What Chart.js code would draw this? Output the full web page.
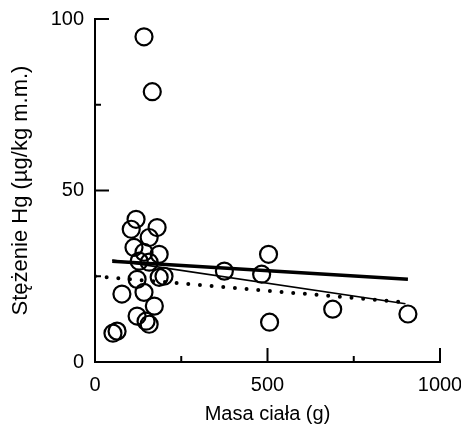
<!DOCTYPE html>
<html>
<head>
<meta charset="utf-8">
<script src="https://cdn.jsdelivr.net/npm/chart.js@4/dist/chart.umd.min.js"></script>
<style>
  html, body { margin: 0; padding: 0; background: #fff; }
  #wrap { width: 461px; height: 426px; }
</style>
</head>
<body>
<div id="wrap"><canvas id="c" width="461" height="426"></canvas></div>
<script>
// ---- data ----
const massG   = [142, 166, 119, 180, 105, 113, 142, 186, 128, 157, 157, 122, 186, 200, 78, 142, 172, 122, 148, 157, 52, 64, 375, 483, 503, 506, 689, 907];
const hgConc  = [94.8, 78.8, 41.6, 39.2, 38.7, 33.4, 32.0, 31.4, 29.4, 29.1, 36.3, 24.1, 24.7, 25.0, 19.8, 20.3, 16.3, 13.4, 11.9, 11.0, 8.4, 9.0, 26.5, 25.6, 31.4, 11.6, 15.4, 14.0];

const thickLineX  = [50, 907];
const thickLineY  = [29.4, 24.1];
const thinLineX   = [50, 900];
const thinLineY   = [29.7, 17.0];
const dottedLineX = [0, 900];
const dottedLineY = [25.0, 17.4];

const xTickLabels = [0, 500, 1000];
const yTickLabels = [0, 50, 100];
const xMajorTicks = [500, 1000];
const xMinorTicks = [250, 750];
const yMajorTicks = [50, 100];
const yMinorTicks = [25, 75];

const xTitle = 'Masa ciała (g)';
const yTitle = 'Stężenie Hg (µg/kg m.m.)';

const toPts = (xs, ys) => xs.map((x, i) => ({ x: x, y: ys[i] }));

const INK = '#000';
const FONT = '"Liberation Sans", Arial, sans-serif';

const insideTicks = {
  id: 'insideTicks',
  afterDraw(chart) {
    const ctx = chart.ctx;
    const xs = chart.scales.x, ys = chart.scales.y;
    const y0 = ys.getPixelForValue(0);
    const x0 = xs.getPixelForValue(0);
    ctx.save();
    ctx.strokeStyle = INK;
    ctx.lineWidth = 2;
    const drawX = (vals, len) => vals.forEach(v => {
      const px = xs.getPixelForValue(v);
      ctx.beginPath(); ctx.moveTo(px, y0); ctx.lineTo(px, y0 - len); ctx.stroke();
    });
    const drawY = (vals, len) => vals.forEach(v => {
      const py = ys.getPixelForValue(v);
      ctx.beginPath(); ctx.moveTo(x0, py); ctx.lineTo(x0 + len, py); ctx.stroke();
    });
    drawX(xMajorTicks, 14); drawX(xMinorTicks, 6);
    drawY(yMajorTicks, 14); drawY(yMinorTicks, 6);
    ctx.restore();
  }
};

new Chart(document.getElementById('c'), {
  type: 'scatter',
  data: {
    datasets: [
      {
        label: 'pts',
        data: toPts(massG, hgConc),
        pointStyle: 'circle',
        pointRadius: 8.5,
        pointBorderWidth: 2.2,
        pointBorderColor: INK,
        pointBackgroundColor: 'rgba(0,0,0,0)',
        clip: false,
        order: 4
      },
      {
        type: 'line', label: 'thin', data: toPts(thinLineX, thinLineY),
        borderColor: INK, borderWidth: 1.6, pointRadius: 0, fill: false, order: 3
      },
      {
        type: 'line', label: 'dotted', data: toPts(dottedLineX, dottedLineY),
        borderColor: INK, borderWidth: 4, borderDash: [0, 11.7], borderCapStyle: 'round',
        pointRadius: 0, fill: false, order: 2
      },
      {
        type: 'line', label: 'thick', data: toPts(thickLineX, thickLineY),
        borderColor: INK, borderWidth: 3.5, pointRadius: 0, fill: false, order: 1
      }
    ]
  },
  options: {
    responsive: false,
    animation: false,
    devicePixelRatio: 1,
    layout: { padding: { top: 19, right: 21, left: 0, bottom: 0 } },
    plugins: { legend: { display: false }, tooltip: { enabled: false } },
    scales: {
      x: {
        type: 'linear', min: 0, max: 1000,
        afterFit(s) { s.height = 64; s.paddingRight = 0; s.paddingLeft = 0; },
        afterBuildTicks(s) { s.ticks = xTickLabels.map(v => ({ value: v })); },
        grid: { display: false, drawTicks: false },
        border: { display: true, color: INK, width: 2 },
        ticks: { color: INK, font: { family: FONT, size: 20 }, padding: 11, maxRotation: 0,
                 callback: v => String(v) },
        title: { display: true, text: xTitle, color: INK, font: { family: FONT, size: 20 }, padding: { top: 0, bottom: 0 } }
      },
      y: {
        type: 'linear', min: 0, max: 100,
        afterFit(s) { s.width = 95; s.paddingTop = 0; s.paddingBottom = 0; },
        afterBuildTicks(s) { s.ticks = yTickLabels.map(v => ({ value: v })); },
        grid: { display: false, drawTicks: false },
        border: { display: true, color: INK, width: 2 },
        ticks: { color: INK, font: { family: FONT, size: 20 }, padding: 11, callback: v => String(v) },
        title: { display: true, text: yTitle, color: INK, font: { family: FONT, size: 22 }, padding: { top: 8, bottom: 0 } }
      }
    }
  },
  plugins: [insideTicks]
});
</script>
</body>
</html>
